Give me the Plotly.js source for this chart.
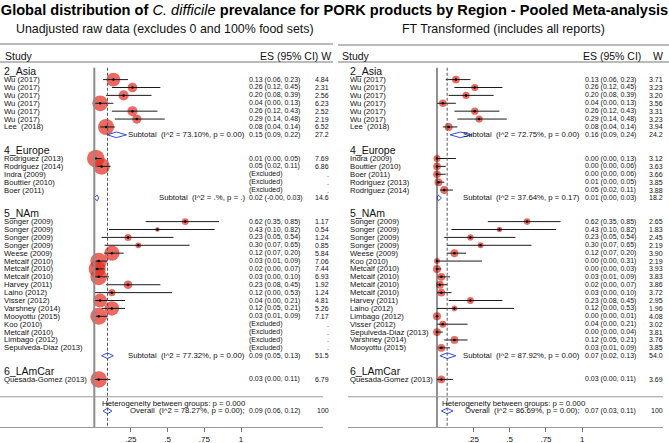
<!DOCTYPE html>
<html>
<head>
<meta charset="utf-8">
<script src="https://cdn.plot.ly/plotly-3.0.1.min.js"></script>
<style>body{margin:0;background:#fff;} #plot{width:669px;height:443px;}</style>
</head>
<body>
<div id="plot"></div>
<script>
const groups = ['2_Asia', '4_Europe', '5_NAm', '6_LAmCar'];

// left panel: unadjusted raw data (null weight = excluded)
const rawStudy = ['Wu (2017)', 'Wu (2017)', 'Wu (2017)', 'Wu (2017)', 'Wu (2017)', 'Wu (2017)', 'Lee  (2018)',
  'Rodriguez (2013)', 'Rodriguez (2014)', 'Indra (2009)', 'Bouttier (2010)', 'Boer (2011)',
  'Songer (2009)', 'Songer (2009)', 'Songer (2009)', 'Songer (2009)', 'Weese (2009)', 'Metcalf (2010)', 'Metcalf (2010)',
  'Metcalf (2010)', 'Harvey (2011)', 'Laino (2012)', 'Visser (2012)', 'Varshney (2014)', 'Mooyottu (2015)',
  'Koo (2010)', 'Metcalf (2010)', 'Limbago (2012)', 'Sepulveda-Diaz (2013)',
  'Quesada-Gomez (2013)'];
const rawGroup = [0,0,0,0,0,0,0, 1,1,1,1,1, 2,2,2,2,2,2,2,2,2,2,2,2,2,2,2,2,2, 3];
const rawES = [0.13,0.26,0.20,0.04,0.26,0.29,0.08, 0.01,0.05,null,null,null,
  0.62,0.43,0.23,0.30,0.12,0.03,0.02,0.03,0.23,0.12,0.04,0.12,0.03,null,null,null,null, 0.03];
const rawLo = [0.06,0.12,0.08,0.00,0.12,0.14,0.04, 0.00,0.02,null,null,null,
  0.35,0.10,0.05,0.07,0.07,0.01,0.00,0.00,0.08,0.00,0.00,0.05,0.01,null,null,null,null, 0.00];
const rawHi = [0.23,0.45,0.39,0.13,0.43,0.48,0.14, 0.05,0.11,null,null,null,
  0.85,0.82,0.54,0.65,0.20,0.09,0.07,0.10,0.45,0.53,0.21,0.21,0.09,null,null,null,null, 0.11];
const rawW = [4.84,2.31,2.56,6.23,2.52,2.19,6.52, 7.69,6.86,null,null,null,
  1.17,0.54,1.24,0.85,5.84,7.06,7.44,6.93,1.92,1.24,4.81,5.26,7.17,null,null,null,null, 6.79];
const rawSubES = [0.15, 0.02, 0.09, null];
const rawSubLo = [0.09, -0.004, 0.05, null];
const rawSubHi = [0.22, 0.03, 0.13, null];
const rawSubW = [27.2, 14.6, 51.5, null];
const rawSubI2 = ['73.10%', '.%', '77.32%', null];
const rawSubP = ['0.00', '.', '0.00', null];
const rawOverall = [0.09, 0.06, 0.12, 100];
const rawOverallI2 = '78.27%', rawOverallP = '0.00', rawHetP = '0.000';

// right panel: Freeman-Tukey transformed
const ftStudy = ['Wu (2017)', 'Wu (2017)', 'Wu (2017)', 'Wu (2017)', 'Wu (2017)', 'Wu (2017)', 'Lee  (2018)',
  'Indra (2009)', 'Bouttier (2010)', 'Boer (2011)', 'Rodriguez (2013)', 'Rodriguez (2014)',
  'Songer (2009)', 'Songer (2009)', 'Songer (2009)', 'Songer (2009)', 'Weese (2009)', 'Koo (2010)', 'Metcalf (2010)',
  'Metcalf (2010)', 'Metcalf (2010)', 'Metcalf (2010)', 'Harvey (2011)', 'Laino (2012)', 'Limbago (2012)',
  'Visser (2012)', 'Sepulveda-Diaz (2013)', 'Varshney (2014)', 'Mooyottu (2015)',
  'Quesada-Gomez (2013)'];
const ftGroup = rawGroup;
const ftES = [0.13,0.26,0.20,0.04,0.26,0.29,0.08, 0.00,0.00,0.00,0.01,0.05,
  0.62,0.43,0.23,0.30,0.12,0.00,0.00,0.03,0.02,0.03,0.23,0.12,0.00,0.04,0.00,0.12,0.03, 0.03];
const ftLo = [0.06,0.12,0.08,0.00,0.12,0.14,0.04, 0.00,0.00,0.00,0.00,0.02,
  0.35,0.10,0.05,0.07,0.07,0.00,0.00,0.01,0.00,0.00,0.08,0.00,0.00,0.00,0.00,0.05,0.01, 0.00];
const ftHi = [0.23,0.45,0.39,0.13,0.43,0.48,0.14, 0.13,0.06,0.06,0.05,0.11,
  0.85,0.82,0.54,0.65,0.20,0.31,0.03,0.09,0.07,0.10,0.45,0.53,0.01,0.21,0.04,0.21,0.09, 0.11];
const ftW = [3.71,3.23,3.20,3.56,3.31,3.23,3.94, 3.12,3.63,3.66,3.85,3.88,
  2.65,1.83,2.45,2.19,3.90,2.19,3.93,3.83,3.86,3.72,2.95,1.96,4.08,3.02,3.81,3.76,3.85, 3.69];
const ftSubES = [0.16, 0.01, 0.07, null];
const ftSubLo = [0.09, 0.00, 0.02, null];
const ftSubHi = [0.24, 0.03, 0.13, null];
const ftSubW = [24.2, 18.2, 54.0, null];
const ftSubI2 = ['72.75%', '37.64%', '87.92%', null];
const ftSubP = ['0.00', '0.17', '0.00', null];
const ftOverall = [0.07, 0.03, 0.11, 100];
const ftOverallI2 = '86.69%', ftOverallP = '0.00', ftHetP = '0.000';

const FONT = 'Liberation Sans, Arial, Helvetica, sans-serif';
const RED = '#e22a1c';
const BLUE = '#2f4fe0';
const NB = '\u00a0';
const LAB = 7.7, NUM = 7.0, SUB = 7.8;

function fmtCI(e, l, h) {
  return e.toFixed(2) + ' (' + l.toFixed(2) + ', ' + h.toFixed(2) + ')';
}
function fmtW(w) {
  return w >= 100 ? w.toFixed(0) : (w >= 10 ? w.toFixed(1) : w.toFixed(2));
}

let traces = [];
let annotations = [];
let shapes = [];

function txt(x, y, text, size, anchor) {
  annotations.push({x: x, y: y, xref: 'paper', yref: 'y', text: text, showarrow: false,
    xanchor: anchor || 'left', yanchor: 'middle', borderpad: 0,
    font: {family: FONT, size: size, color: '#111'}});
}

function panel(p) {
  let ys = [], subRows = [];
  let row = 0;
  for (let g = 0; g < groups.length; g++) {
    txt(p.labelX, row - 0.1, groups[g], 10.5);
    row++;
    for (let i = 0; i < p.study.length; i++) {
      if (p.group[i] !== g) continue;
      ys[i] = row;
      txt(p.labelX, row, p.study[i], LAB);
      if (p.w[i] === null) {
        txt(p.esX, row, '(Excluded)', NUM);
        txt(p.wX, row, '.', NUM, 'right');
      } else {
        txt(p.esX, row, fmtCI(p.es[i], p.lo[i], p.hi[i]), NUM);
        txt(p.wX, row, fmtW(p.w[i]), NUM, 'right');
      }
      row++;
    }
    if (p.subES[g] !== null) {
      subRows[g] = row;
      txt(p.subEndX, row, 'Subtotal' + NB + NB + '(I^2 = ' + p.subI2[g] + ', p = ' + p.subP[g] + ')', SUB, 'right');
      txt(p.esX, row, fmtCI(p.subES[g], p.subLo[g], p.subHi[g]), NUM);
      txt(p.wX, row, fmtW(p.subW[g]), NUM, 'right');
      row++;
    }
    row++;
  }
  const sepRow = row + 0.2;
  const hetRow = row + 1, ovRow = row + 2;
  txt(p.hetX, hetRow, 'Heterogeneity between groups: p = ' + p.hetP, SUB);
  txt(p.subEndX, ovRow, 'Overall' + NB + NB + '(I^2 = ' + p.ovI2 + ', p = ' + p.ovP + ');', SUB, 'right');
  txt(p.esX, ovRow, fmtCI(p.ov[0], p.ov[1], p.ov[2]), NUM);
  txt(p.wX, ovRow, fmtW(p.ov[3]), NUM, 'right');

  // study boxes
  let bx = [], by = [], bs = [];
  let lx = [], ly = [];
  for (let i = 0; i < p.study.length; i++) {
    if (p.w[i] === null) continue;
    bx.push(p.es[i]); by.push(ys[i]); bs.push(p.k * Math.sqrt(p.w[i]));
    lx.push(p.lo[i], p.hi[i], null); ly.push(ys[i], ys[i], null);
  }
  traces.push({x: bx, y: by, xaxis: p.xa, yaxis: 'y', type: 'scatter', mode: 'markers',
    marker: {size: bs, color: RED, line: {width: 0}}, cliponaxis: false});
  traces.push({x: lx, y: ly, xaxis: p.xa, yaxis: 'y', type: 'scatter', mode: 'lines',
    line: {color: '#1a1a1a', width: 1}, cliponaxis: false});
  traces.push({x: bx, y: by, xaxis: p.xa, yaxis: 'y', type: 'scatter', mode: 'markers',
    marker: {size: 2.5, color: '#000'}, cliponaxis: false});

  // diamonds
  const h = 0.36;
  let dx = [], dy = [];
  for (let g = 0; g < groups.length; g++) {
    if (p.subES[g] === null) continue;
    const r = subRows[g];
    dx.push(p.subLo[g], p.subES[g], p.subHi[g], p.subES[g], p.subLo[g], null);
    dy.push(r, r - h, r, r + h, r, null);
  }
  dx.push(p.ov[1], p.ov[0], p.ov[2], p.ov[0], p.ov[1]);
  dy.push(ovRow, ovRow - h, ovRow, ovRow + h, ovRow);
  traces.push({x: dx, y: dy, xaxis: p.xa, yaxis: 'y', type: 'scatter', mode: 'lines',
    line: {color: BLUE, width: 1}, cliponaxis: false});

  // null line and overall dashed line
  shapes.push({type: 'line', xref: p.xa, yref: 'y', x0: 0, x1: 0, y0: -0.5, y1: 45.03,
    line: {color: p.nullColor, width: p.nullWidth}});
  shapes.push({type: 'line', xref: p.xa, yref: 'y', x0: p.ov[0], x1: p.ov[0], y0: -0.5, y1: 45.03,
    line: {color: '#555', width: 1, dash: '3px,2px'}});
  shapes.push({type: 'line', xref: p.xa + ' domain', yref: 'y', x0: 0, x1: 1, y0: sepRow, y1: sepRow,
    line: {color: '#999', width: 1}});
}

panel({xa: 'x', study: rawStudy, group: rawGroup, es: rawES, lo: rawLo, hi: rawHi, w: rawW,
  subES: rawSubES, subLo: rawSubLo, subHi: rawSubHi, subW: rawSubW, subI2: rawSubI2, subP: rawSubP,
  ov: rawOverall, ovI2: rawOverallI2, ovP: rawOverallP, hetP: rawHetP,
  labelX: 3 / 669, esX: 248 / 669, wX: 330 / 669, subEndX: 246 / 669, hetX: 101 / 669,
  k: 6.3, nullColor: '#8c8c8c', nullWidth: 2});
panel({xa: 'x2', study: ftStudy, group: ftGroup, es: ftES, lo: ftLo, hi: ftHi, w: ftW,
  subES: ftSubES, subLo: ftSubLo, subHi: ftSubHi, subW: ftSubW, subI2: ftSubI2, subP: ftSubP,
  ov: ftOverall, ovI2: ftOverallI2, ovP: ftOverallP, hetP: ftHetP,
  labelX: 349 / 669, esX: 584 / 669, wX: 664 / 669, subEndX: 581 / 669, hetX: 441 / 669,
  k: 4.0, nullColor: '#222', nullWidth: 1});

// header texts and rules
function head(x, y, text, size, anchor) {
  annotations.push({x: x, y: y, xref: 'paper', yref: 'paper', text: text, showarrow: false,
    xanchor: anchor, yanchor: 'middle', font: {family: FONT, size: size, color: '#111'}});
}
head(165 / 669, 1 - 29 / 443, 'Unadjusted raw data (excludes 0 and 100% food sets)', 12.4, 'center');
head(504 / 669, 1 - 29 / 443, 'FT Transformed (includes all reports)', 12.4, 'center');
head(3 / 669, 1 - 56 / 443, 'Study', 10.5, 'left');
head(333 / 669, 1 - 56 / 443, 'ES (95% CI) W', 10.5, 'right');
head(340 / 669, 1 - 56 / 443, 'Study', 10.5, 'left');
head(643 / 669, 1 - 56 / 443, 'ES (95% CI)', 10.5, 'right');
head(665 / 669, 1 - 56 / 443, 'W', 10.5, 'right');
[[0, 333, 44], [338, 669, 45], [0, 333, 62], [338, 669, 62]].forEach(function (s) {
  shapes.push({type: 'line', xref: 'paper', yref: 'paper', x0: s[0] / 669, x1: s[1] / 669,
    y0: 1 - s[2] / 443, y1: 1 - s[2] / 443, line: {color: '#777', width: 1}});
});

const axisBase = {
  tickvals: [0.25, 0.5, 0.75, 1], ticktext: ['.25', '.5', '.75', '1'],
  ticks: 'outside', ticklen: 4, tickcolor: '#777', showline: true, linecolor: '#999', linewidth: 1,
  showgrid: false, zeroline: false, anchor: 'y', fixedrange: true,
  tickfont: {family: FONT, size: 8, color: '#111'}
};

const layout = {
  width: 669, height: 443,
  margin: {l: 0, r: 0, t: 0, b: 0},
  paper_bgcolor: '#fff', plot_bgcolor: '#fff',
  showlegend: false, hovermode: false,
  title: {
    text: '<b>Global distribution of </b><i>C. difficile</i><b> prevalance for PORK products by Region - Pooled Meta-analysis</b>',
    x: 0.5, xanchor: 'center', y: 1 - 10 / 443, yanchor: 'middle',
    font: {family: FONT, size: 14.6, color: '#000'}
  },
  xaxis: Object.assign({}, axisBase, {domain: [0, 323 / 669], range: [-94.3 / 146.7, (323 - 94.3) / 146.7]}),
  xaxis2: Object.assign({}, axisBase, {domain: [348 / 669, 663 / 669], range: [(348 - 437) / 145.3, (663 - 437) / 145.3]}),
  yaxis: {domain: [16 / 443, 1 - 62 / 443], range: [45.03, -1.23], visible: false, fixedrange: true},
  annotations: annotations,
  shapes: shapes
};

Plotly.newPlot('plot', traces, layout, {staticPlot: true, displayModeBar: false});
</script>
</body>
</html>
